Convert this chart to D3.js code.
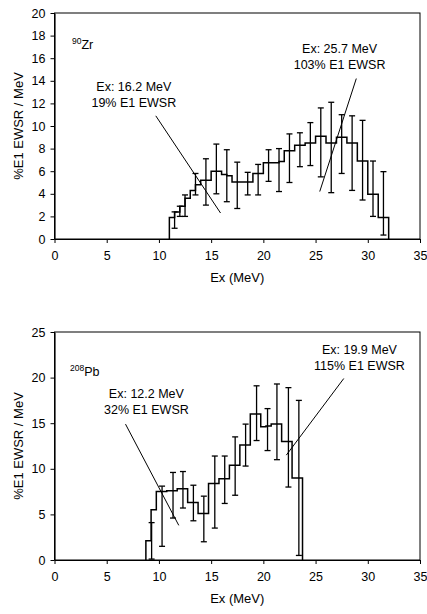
<!DOCTYPE html>
<html><head><meta charset="utf-8">
<script src="https://cdn.jsdelivr.net/npm/d3@7"></script>
<style>body{margin:0;background:#fff}svg{display:block}</style>
</head><body>
<script>
// ---------- DATA ----------
const xTicks = [0, 5, 10, 15, 20, 25, 30, 35];
const zrYTicks = [0, 2, 4, 6, 8, 10, 12, 14, 16, 18, 20];
const pbYTicks = [0, 5, 10, 15, 20, 25];

// 90Zr histogram (bin edges in MeV, value per bin)
const zrEdges = [11, 11.5, 12, 12.5, 13, 13.5, 14, 14.5, 15, 15.5, 16, 16.5, 17, 17.5, 18, 18.5, 19, 19.5, 20, 20.5, 21, 21.5, 22, 22.5, 23, 23.5, 24, 24.5, 25, 25.5, 26, 26.5, 27, 27.5, 28, 28.5, 29, 29.5, 30, 30.5, 31, 31.5, 32];
const zrValues = [1.9, 2.4, 2.9, 3.6, 4.3, 4.8, 5.2, 5.2, 6.0, 6.0, 5.7, 5.6, 5.05, 5.05, 5.05, 5.05, 5.8, 5.8, 6.75, 6.75, 6.75, 6.85, 7.8, 7.8, 8.3, 8.3, 8.5, 8.5, 9.1, 9.1, 8.5, 8.5, 9.0, 9.0, 8.5, 8.5, 6.9, 6.9, 3.95, 3.95, 1.9, 1.9];
const zrErrX = [11.5, 12, 12.5, 13.5, 14.5, 15.5, 16.5, 17.5, 18.5, 19.5, 20.5, 21.5, 22.5, 23.5, 24.5, 25.5, 26.5, 27.5, 28.5, 29.5, 30.5, 31.5];
const zrErrLo = [0.95, 2.0, 2.0, 3.9, 3.0, 4.0, 3.3, 2.7, 3.9, 3.9, 5.1, 4.2, 5.0, 6.4, 6.5, 5.5, 4.1, 5.8, 4.3, 3.45, 2.0, 0.35];
const zrErrHi = [2.4, 2.9, 3.9, 5.8, 7.1, 8.4, 7.9, 6.8, 5.9, 6.6, 7.9, 8.0, 9.3, 9.4, 10.3, 11.6, 12.1, 11.0, 10.9, 10.5, 6.9, 5.96];

// 208Pb histogram
const pbEdges = [8.75, 9.25, 9.75, 10.25, 10.75, 11.25, 11.75, 12.25, 12.75, 13.25, 13.75, 14.25, 14.75, 15.25, 15.75, 16.25, 16.75, 17.25, 17.75, 18.25, 18.75, 19.25, 19.75, 20.25, 20.75, 21.25, 21.75, 22.25, 22.75, 23.25, 23.75];
const pbValues = [2.1, 5.5, 7.5, 7.5, 7.6, 7.6, 7.8, 7.8, 6.3, 6.3, 5.1, 5.1, 8.4, 8.4, 8.9, 8.9, 10.4, 10.4, 12.6, 12.6, 16.0, 16.0, 14.6, 14.7, 14.9, 14.9, 13.0, 13.0, 9.0, 9.0];
const pbErrX = [9.3, 10.3, 11.35, 12.3, 13.3, 14.3, 15.35, 16.3, 17.3, 18.3, 19.35, 20.4, 21.3, 22.4, 23.4];
const pbErrLo = [0.1, 1.5, 4.6, 5.7, 4.3, 2.0, 3.5, 6.2, 7.1, 10.3, 13.1, 12.0, 11.0, 8.0, 0.5];
const pbErrHi = [4.1, 8.1, 9.6, 9.7, 8.2, 7.0, 11.4, 11.4, 13.5, 14.9, 19.1, 16.6, 19.3, 18.9, 17.5];

// annotations (text anchored in data coordinates)
const zrNotes = [
  {lines: ["Ex: 16.2 MeV", "19% E1 EWSR"], tx: 7.6, ty: 13.1, from: [9.7, 10.9], to: [15.9, 2.3]},
  {lines: ["Ex: 25.7 MeV", "103% E1 EWSR"], tx: 27.3, ty: 16.5, from: [28.9, 14.2], to: [25.4, 4.2]}
];
const pbNotes = [
  {lines: ["Ex: 12.2 MeV", "32% E1 EWSR"], tx: 8.8, ty: 17.8, from: [6.8, 14.9], to: [11.9, 3.8]},
  {lines: ["Ex: 19.9 MeV", "115% E1 EWSR"], tx: 29.2, ty: 22.6, from: [27.7, 19.9], to: [22.2, 11.5]}
];

// ---------- DRAW ----------
const W = 427, H = 614;
const FONT = "'Liberation Sans', Arial, sans-serif";
const svg = d3.select("body").append("svg").attr("width", W).attr("height", H)
  .style("font-family", FONT);
svg.append("rect").attr("width", W).attr("height", H).attr("fill", "#fff");

function panel(opts) {
  const x = d3.scaleLinear().domain([0, 35]).range([54.5, 420]);
  const y = d3.scaleLinear().domain([0, opts.yMax]).range([opts.y0, opts.yTop]);
  const g = svg.append("g");

  g.append("rect").attr("x", x(0)).attr("y", y(opts.yMax))
    .attr("width", x(35) - x(0)).attr("height", y(0) - y(opts.yMax))
    .attr("fill", "none").attr("stroke", "#000").attr("stroke-width", 1);

  const ya = g.append("g").attr("transform", `translate(${x(0)},0)`)
    .call(d3.axisLeft(y).tickValues(opts.yTicks).tickSize(4).tickSizeOuter(0).tickPadding(5));
  const xa = g.append("g").attr("transform", `translate(0,${y(0)})`)
    .call(d3.axisBottom(x).tickValues(xTicks).tickSize(4).tickSizeOuter(0).tickPadding(8));
  [ya, xa].forEach(a => {
    a.selectAll("text").attr("font-size", 12.5).attr("font-family", FONT).attr("fill", "#000");
    a.selectAll("line,path").attr("stroke", "#000");
  });
  xa.select(".domain").attr("stroke-width", 1.2);
  ya.select(".domain").attr("stroke-width", 1.2);

  const pts = [[opts.edges[0], 0]];
  opts.values.forEach((v, i) => { pts.push([opts.edges[i], v]); pts.push([opts.edges[i + 1], v]); });
  pts.push([opts.edges[opts.edges.length - 1], 0]);
  g.append("path").attr("d", d3.line().x(d => x(d[0])).y(d => y(d[1]))(pts))
    .attr("fill", "none").attr("stroke", "#000").attr("stroke-width", 1.5);

  const eb = g.append("g").attr("stroke", "#000").attr("stroke-width", 1.3);
  opts.errX.forEach((ex, i) => {
    const cx = x(ex);
    eb.append("line").attr("x1", cx).attr("x2", cx).attr("y1", y(opts.errLo[i])).attr("y2", y(opts.errHi[i]));
    eb.append("line").attr("x1", cx - 3).attr("x2", cx + 3).attr("y1", y(opts.errLo[i])).attr("y2", y(opts.errLo[i]));
    eb.append("line").attr("x1", cx - 3).attr("x2", cx + 3).attr("y1", y(opts.errHi[i])).attr("y2", y(opts.errHi[i]));
  });

  opts.notes.forEach(n => {
    const t = g.append("text").attr("text-anchor", "middle").attr("font-size", 12.5).attr("fill", "#000");
    n.lines.forEach((l, k) => t.append("tspan").attr("x", x(n.tx)).attr("y", y(n.ty) + k * 16).text(l));
    g.append("line").attr("x1", x(n.from[0])).attr("y1", y(n.from[1]))
      .attr("x2", x(n.to[0])).attr("y2", y(n.to[1])).attr("stroke", "#000").attr("stroke-width", 1);
  });

  const lab = g.append("text").attr("x", opts.labX).attr("y", opts.labY).attr("font-size", 12.5).attr("fill", "#000");
  lab.append("tspan").attr("font-size", 8.5).attr("dy", -5).text(opts.mass);
  lab.append("tspan").attr("dy", 5).text(opts.elem);

  const yc = (y(0) + y(opts.yMax)) / 2;
  g.append("text").attr("transform", `translate(18,${yc}) rotate(-90)`)
    .attr("text-anchor", "middle").attr("font-size", 13).attr("dy", "0.35em").text("%E1 EWSR / MeV");
  g.append("text").attr("x", (x(0) + x(35)) / 2).attr("y", y(0) + 43)
    .attr("text-anchor", "middle").attr("font-size", 13).text("Ex (MeV)");
}

panel({yMax: 20, y0: 239, yTop: 13, yTicks: zrYTicks, edges: zrEdges, values: zrValues,
  errX: zrErrX, errLo: zrErrLo, errHi: zrErrHi, notes: zrNotes, labX: 72, labY: 49, mass: "90", elem: "Zr"});
panel({yMax: 25, y0: 560, yTop: 332, yTicks: pbYTicks, edges: pbEdges, values: pbValues,
  errX: pbErrX, errLo: pbErrLo, errHi: pbErrHi, notes: pbNotes, labX: 70, labY: 376, mass: "208", elem: "Pb"});
</script>
</body></html>
